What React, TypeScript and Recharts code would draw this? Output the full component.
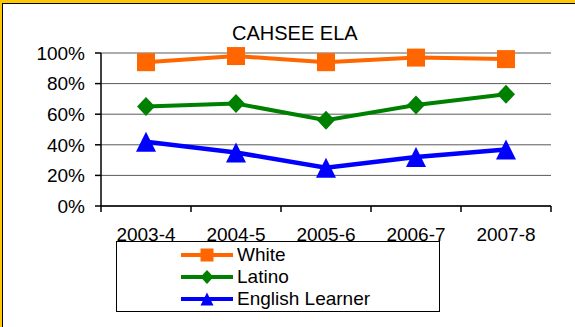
import React from "react";
import { CartesianGrid, Legend, Line, LineChart, XAxis, YAxis } from "recharts";

const CATEGORIES = ["2003-4", "2004-5", "2005-6", "2006-7", "2007-8"];
const WHITE = [94, 98, 94, 97, 96];
const LATINO = [65, 67, 56, 66, 73];
const ENGLISH_LEARNER = [42, 35, 25, 32, 37];
const Y_TICKS = [0, 20, 40, 60, 80, 100];
const LEGEND_ORDER = ["white", "latino", "el"];

const FONT = "'Liberation Sans', Arial, sans-serif";
const W = 575;
const H = 327;
const MARGIN = { top: 53, right: 24, bottom: 91, left: 41 };
const Y_AXIS_W = 60;
const PLOT_W = W - MARGIN.left - MARGIN.right - Y_AXIS_W;

const data = CATEGORIES.map((year, i) => ({
	year,
	white: WHITE[i],
	latino: LATINO[i],
	el: ENGLISH_LEARNER[i],
}));

const ORANGE = "#ff6600";
const GREEN = "#008000";
const BLUE = "#0000ff";
const FRAME = "#8a8a8a";

function Marker({ kind, cx, cy, size, color }: { kind: string; cx: number; cy: number; size: number; color: string }) {
	const h = size / 2;
	if (kind === "square") {
		return <rect x={cx - h} y={cy - h} width={size} height={size} fill={color} />;
	}
	if (kind === "diamond") {
		return (
			<polygon
				points={`${cx},${cy - h - 0.5} ${cx + h},${cy} ${cx},${cy + h + 0.5} ${cx - h},${cy}`}
				fill={color}
			/>
		);
	}
	return (
		<polygon points={`${cx},${cy - h} ${cx + h},${cy + h} ${cx - h},${cy + h}`} fill={color} />
	);
}

const dotFor = (kind: string, color: string, size: number) => (props: any) => {
	if (props.cx == null || props.cy == null) return <g key={`${kind}-${props.index}`} />;
	return (
		<Marker key={`${kind}-${props.index}`} kind={kind} cx={props.cx} cy={props.cy} size={size} color={color} />
	);
};

const SERIES_SHAPES: Record<string, string> = { white: "square", latino: "diamond", el: "triangle" };

// Excel style: tick marks sit between the categories
function XTick(props: any) {
	const { x, y, payload, index, visibleTicksCount } = props;
	const count = visibleTicksCount || CATEGORIES.length;
	const band = PLOT_W / count;
	const last = index === count - 1;
	return (
		<g>
			<line x1={x - band / 2} x2={x - band / 2} y1={y} y2={y + 6} stroke="#000" strokeWidth={1.5} />
			{last && <line x1={x + band / 2} x2={x + band / 2} y1={y} y2={y + 6} stroke="#000" strokeWidth={1.5} />}
			<text x={x} y={y + 22} dy="0.71em" textAnchor="middle" fontSize={19} fontFamily={FONT} fill="#000">
				{payload.value}
			</text>
		</g>
	);
}

function LegendBox(props: any) {
	const items = [...(props.payload || [])].sort(
		(a: any, b: any) => LEGEND_ORDER.indexOf(a.dataKey) - LEGEND_ORDER.indexOf(b.dataKey),
	);
	return (
		<div
			style={{
				boxSizing: "border-box",
				width: 324,
				height: 71,
				border: "1px solid #000",
				background: "#fff",
				paddingTop: 2,
				fontFamily: FONT,
				fontSize: 19,
			}}
		>
			{items.map((item: any) => (
				<div key={item.value} style={{ display: "flex", alignItems: "center", height: 22 }}>
					<svg width={54} height={22} style={{ marginLeft: 63, display: "block" }}>
						<line x1={1} x2={53} y1={11} y2={11} stroke={item.color} strokeWidth={4} />
						<Marker kind={SERIES_SHAPES[item.dataKey]} cx={27} cy={11} size={13} color={item.color} />
					</svg>
					<span style={{ marginLeft: 3, lineHeight: "22px", color: "#000" }}>{item.value}</span>
				</div>
			))}
		</div>
	);
}

export default function App() {
	return (
		<div style={{ position: "absolute", left: 0, top: 0, width: W, height: H, background: "#fff", overflow: "hidden" }}>
			<LineChart width={W} height={H} data={data} margin={MARGIN}>
				<CartesianGrid vertical={false} stroke="#5a5a5a" strokeWidth={1} />
				<XAxis
					dataKey="year"
					scale="band"
					height={30}
					tickLine={false}
					tickSize={0}
					tickMargin={0}
					axisLine={{ stroke: "#000", strokeWidth: 1.5 }}
					tick={<XTick />}
					interval={0}
				/>
				<XAxis
					xAxisId="frame"
					dataKey="year"
					orientation="top"
					height={0}
					tick={false}
					tickLine={false}
					axisLine={{ stroke: FRAME, strokeWidth: 2 }}
				/>
				<YAxis
					width={Y_AXIS_W}
					domain={[0, 100]}
					ticks={Y_TICKS}
					tickFormatter={(v) => `${v}%`}
					tickSize={6}
					tickMargin={10}
					axisLine={{ stroke: "#000", strokeWidth: 1.5 }}
					tickLine={{ stroke: "#000", strokeWidth: 1.5 }}
					tick={{ fill: "#000", fontSize: 19, fontFamily: FONT }}
					interval={0}
				/>
				<YAxis
					yAxisId="frame"
					orientation="right"
					width={0}
					tick={false}
					tickLine={false}
					axisLine={{ stroke: FRAME, strokeWidth: 2 }}
				/>
				<Line
					name="White"
					dataKey="white"
					stroke={ORANGE}
					strokeWidth={4}
					dot={dotFor("square", ORANGE, 18)}
					activeDot={false}
					isAnimationActive={false}
				/>
				<Line
					name="Latino"
					dataKey="latino"
					stroke={GREEN}
					strokeWidth={4}
					dot={dotFor("diamond", GREEN, 18)}
					activeDot={false}
					isAnimationActive={false}
				/>
				<Line
					name="English Learner"
					dataKey="el"
					stroke={BLUE}
					strokeWidth={4.5}
					dot={dotFor("triangle", BLUE, 20)}
					activeDot={false}
					isAnimationActive={false}
				/>
				<Legend
					layout="horizontal"
					verticalAlign="middle"
					align="center"
					width={324}
					height={71}
					wrapperStyle={{ left: 116, top: 241, width: 324, height: 71 }}
					content={<LegendBox />}
				/>
			</LineChart>
			<div
				style={{
					position: "absolute",
					left: 232,
					top: 23,
					fontFamily: FONT,
					fontSize: 20,
					lineHeight: "20px",
					color: "#000",
					whiteSpace: "nowrap",
				}}
			>
				CAHSEE ELA
			</div>
			<div style={{ position: "absolute", left: 0, top: 0, width: W, height: 3, background: "#ffc800" }} />
			<div style={{ position: "absolute", left: 2, top: 3, width: W, height: 1, background: "#000" }} />
			<div style={{ position: "absolute", left: 0, top: 0, width: 2, height: H, background: "#ffc800" }} />
			<div style={{ position: "absolute", left: 2, top: 3, width: 1, height: H, background: "#000" }} />
		</div>
	);
}
